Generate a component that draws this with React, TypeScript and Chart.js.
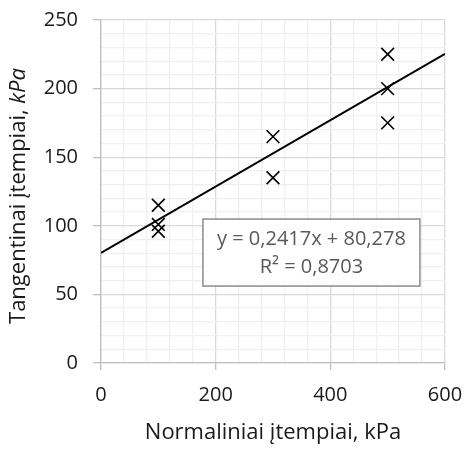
import React, { useEffect, useRef } from "react";
import { Chart, registerables } from "chart.js";

Chart.register(...registerables);

const xAtLow = [100, 100, 100];
const yAtLow = [115, 101, 96];
const xAtMid = [300, 300];
const yAtMid = [165, 135];
const xAtHigh = [500, 500, 500];
const yAtHigh = [225, 200, 175];

const slope = 0.2417;
const intercept = 80.278;
const trendRange = [0, 600];

const xTitle = "Normaliniai įtempiai, kPa";
const yTitleMain = "Tangentinai įtempiai, ";
const yTitleItalic = "kPa";
const eqLine1 = "y = 0,2417x + 80,278";
const eqLine2 = "R² = 0,8703";

const FONT = "'Open Sans'";
const TEXT = "#1a1a1a";

const points = [
  ...xAtLow.map((x, i) => ({ x, y: yAtLow[i] })),
  ...xAtMid.map((x, i) => ({ x, y: yAtMid[i] })),
  ...xAtHigh.map((x, i) => ({ x, y: yAtHigh[i] })),
];
const trend = trendRange.map((x) => ({ x, y: slope * x + intercept }));

const overlay = {
  id: "overlay",
  afterDraw(chart: any) {
    const ctx = chart.ctx;
    const { chartArea } = chart;
    const xs = chart.scales.x;
    const ys = chart.scales.y;
    ctx.save();
    ctx.fillStyle = TEXT;
    ctx.textBaseline = "middle";
    const fs = 22;
    const cx = 19;
    const cy = 196;
    ctx.translate(cx, cy);
    ctx.rotate(-Math.PI / 2);
    ctx.font = `${fs}px ${FONT}`;
    const w1 = ctx.measureText(yTitleMain).width;
    ctx.font = `italic ${fs}px ${FONT}`;
    const w2 = ctx.measureText(yTitleItalic).width;
    const start = -(w1 + w2) / 2;
    ctx.textAlign = "left";
    ctx.font = `${fs}px ${FONT}`;
    ctx.fillText(yTitleMain, start, 0);
    ctx.font = `italic ${fs}px ${FONT}`;
    ctx.fillText(yTitleItalic, start + w1, 0);
    ctx.setTransform(1, 0, 0, 1, 0, 0);
    ctx.font = `${fs}px ${FONT}`;
    ctx.textAlign = "center";
    ctx.fillText(xTitle, (chartArea.left + chartArea.right) / 2, 433);
    const bx = xs.getPixelForValue(367);
    const by = ys.getPixelForValue(80.5);
    const bw = 217;
    const bh = 67;
    ctx.fillStyle = "#ffffff";
    ctx.fillRect(bx - bw / 2, by - bh / 2, bw, bh);
    ctx.strokeStyle = "#8c8c8c";
    ctx.lineWidth = 1.5;
    ctx.strokeRect(bx - bw / 2, by - bh / 2, bw, bh);
    ctx.fillStyle = "#595959";
    ctx.font = `20px ${FONT}`;
    ctx.fillText(eqLine1, bx, by - 13);
    ctx.fillText(eqLine2, bx, by + 15);
    ctx.restore();
  },
};

const zeroPad = (s: any) => {
  s.paddingLeft = 0;
  s.paddingRight = 0;
  s.paddingTop = 0;
  s.paddingBottom = 0;
};

export default function App() {
  const ref = useRef<HTMLCanvasElement>(null);
  useEffect(() => {
    document.body.style.margin = "0";
    const chart = new Chart(ref.current!, {
      type: "scatter",
      data: {
        datasets: [
          {
            type: "line",
            data: trend,
            borderColor: "#000000",
            borderWidth: 2,
            pointRadius: 0,
            fill: false,
          } as any,
          {
            data: points,
            pointStyle: "crossRot",
            pointRadius: 9,
            pointBorderColor: "#000000",
            pointBorderWidth: 1.6,
            backgroundColor: "#000000",
            borderColor: "#000000",
          },
        ],
      },
      options: {
        animation: false,
        responsive: false,
        layout: { padding: { top: 20, right: 22, left: 0, bottom: 0 } },
        plugins: { legend: { display: false }, tooltip: { enabled: false } },
        scales: {
          x: {
            type: "linear",
            min: 0,
            max: 600,
            ticks: {
              stepSize: 40,
              autoSkip: false,
              maxRotation: 0,
              padding: 13,
              color: TEXT,
              font: { family: FONT, size: 20 },
              callback: (v: any) => (Number(v) % 200 === 0 ? String(v) : ""),
            },
            grid: {
              color: (c: any) => (c.tick && c.tick.value % 200 === 0 ? "#d9d9d9" : "#f0f0f0"),
              lineWidth: 1.3,
              tickLength: 7,
              tickColor: (c: any) => (c.tick && c.tick.value % 200 === 0 ? "#bfbfbf" : "rgba(0,0,0,0)"),
            },
            border: { color: "#bfbfbf", width: 1.3 },
            afterFit: (s: any) => {
              s.height = 87;
              zeroPad(s);
            },
          },
          y: {
            type: "linear",
            min: 0,
            max: 250,
            ticks: {
              stepSize: 10,
              autoSkip: false,
              padding: 15,
              color: TEXT,
              font: { family: FONT, size: 20 },
              callback: (v: any) => (Number(v) % 50 === 0 ? String(v) : ""),
            },
            grid: {
              color: (c: any) => (c.tick && c.tick.value % 50 === 0 ? "#d9d9d9" : "#f0f0f0"),
              lineWidth: 1.3,
              tickLength: 8,
              tickColor: (c: any) => (c.tick && c.tick.value % 50 === 0 ? "#bfbfbf" : "rgba(0,0,0,0)"),
            },
            border: { color: "#bfbfbf", width: 1.3 },
            afterFit: (s: any) => {
              s.width = 101;
              zeroPad(s);
            },
          },
        },
      },
      plugins: [overlay],
    });
    return () => chart.destroy();
  }, []);
  return (
    <div style={{ width: 467, height: 450 }}>
      <canvas ref={ref} width={467} height={450} style={{ display: "block" }} />
    </div>
  );
}
